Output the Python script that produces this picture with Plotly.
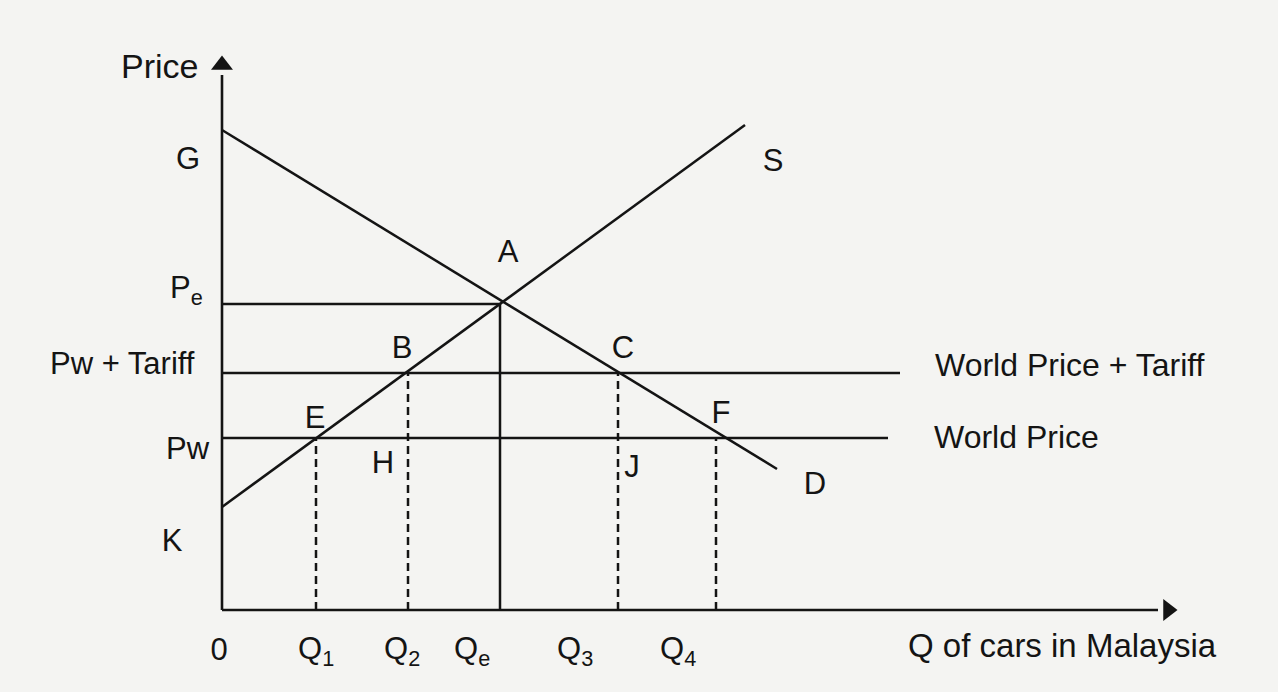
import plotly.graph_objects as go

# ---- Data (diagram units) ----
quantities = {"Q1": 9.4, "Q2": 18.6, "Qe": 27.8, "Q3": 39.6, "Q4": 49.4}
prices = {"G": 48.0, "Pe": 30.6, "Pwt": 23.7, "Pw": 17.2, "K": 10.3}

demand_q = [0.0, 55.5]
demand_p = [48.0, 14.1]
supply_q = [0.0, 52.3]
supply_p = [10.3, 48.5]

world_tariff_end = 67.8
world_end = 66.6
x_axis_end = 93.6
y_axis_end = 53.5
x_arrow = 94.6
y_arrow = 54.5

# single-letter point / curve labels
letter_names = ["G", "K", "0", "S", "D", "A", "B", "C", "E", "H", "F", "J"]
letter_x = [-3.4, -5.0, -0.3, 55.1, 59.3, 28.6, 18.0, 40.1, 9.3, 16.1, 49.9, 41.0]
letter_y = [44.9, 6.7, -4.2, 44.7, 12.4, 35.6, 26.0, 26.0, 19.0, 14.5, 19.5, 14.1]

ink = "#141414"
bg = "#f4f4f2"
font_family = "Liberation Sans, Arial, sans-serif"

fig = go.Figure()

def line(xs, ys, dash=None, width=2.5):
    fig.add_trace(go.Scatter(x=xs, y=ys, mode="lines",
                             line=dict(color=ink, width=width, dash=dash),
                             hoverinfo="skip", showlegend=False))

# axes
line([0, 0], [0, y_axis_end], width=2.6)
line([0, x_axis_end], [0, 0], width=2.6)
fig.add_trace(go.Scatter(x=[0], y=[y_arrow], mode="markers",
                         marker=dict(symbol="triangle-up", size=19, color=ink),
                         hoverinfo="skip", showlegend=False))
fig.add_trace(go.Scatter(x=[x_arrow], y=[0], mode="markers",
                         marker=dict(symbol="triangle-right", size=19, color=ink),
                         hoverinfo="skip", showlegend=False))

# demand & supply
line(demand_q, demand_p)
line(supply_q, supply_p)

# price lines
line([0, quantities["Qe"]], [prices["Pe"], prices["Pe"]])
line([0, world_tariff_end], [prices["Pwt"], prices["Pwt"]])
line([0, world_end], [prices["Pw"], prices["Pw"]])

# verticals
line([quantities["Qe"], quantities["Qe"]], [0, prices["Pe"]])
dash = "8px,5px"
line([quantities["Q1"]] * 2, [0, prices["Pw"]], dash=dash)
line([quantities["Q2"]] * 2, [0, prices["Pwt"]], dash=dash)
line([quantities["Q3"]] * 2, [0, prices["Pwt"]], dash=dash)
line([quantities["Q4"]] * 2, [0, prices["Pw"]], dash=dash)

# single letters as a text trace
fig.add_trace(go.Scatter(x=letter_x, y=letter_y, mode="text", text=letter_names,
                         textposition="middle center",
                         textfont=dict(family=font_family, size=31, color=ink),
                         hoverinfo="skip", showlegend=False))

def label(text, x, y, size=31, xanchor="center"):
    fig.add_annotation(x=x, y=y, text=text, showarrow=False, xref="x", yref="y",
                       xanchor=xanchor, yanchor="middle",
                       font=dict(family=font_family, size=size, color=ink))

# y-axis labels
label("Price", -6.3, 54.4, size=34)
label("P<sub>e</sub>", -3.6, prices["Pe"] + 1.4)
label("Pw + Tariff", -10.0, prices["Pwt"] + 1.0)
label("Pw", -3.4, prices["Pw"] - 1.0)

# x-axis labels
label("Q<sub>1</sub>", quantities["Q1"], -4.1)
label("Q<sub>2</sub>", quantities["Q2"] - 0.6, -4.1)
label("Q<sub>e</sub>", quantities["Qe"] - 2.8, -4.1)
label("Q<sub>3</sub>", quantities["Q3"] - 4.3, -4.1)
label("Q<sub>4</sub>", quantities["Q4"] - 3.8, -4.1)
label("Q of cars in Malaysia", 84.0, -3.5, size=33)

# line labels
label("World Price + Tariff", 84.8, 24.5, size=32)
label("World Price", 79.4, 17.3, size=32)

fig.update_layout(
    width=1278, height=692,
    margin=dict(l=0, r=0, t=0, b=0),
    paper_bgcolor=bg, plot_bgcolor=bg,
    xaxis=dict(range=[-22.2, 105.6], visible=False, fixedrange=True),
    yaxis=dict(range=[-8.2, 61.0], visible=False, fixedrange=True),
    showlegend=False,
)

fig.write_html(
    "out.html",
    config={"displayModeBar": False},
    post_script="document.body.style.margin='0';document.body.style.overflow='hidden';document.body.style.background='" + bg + "';",
)
